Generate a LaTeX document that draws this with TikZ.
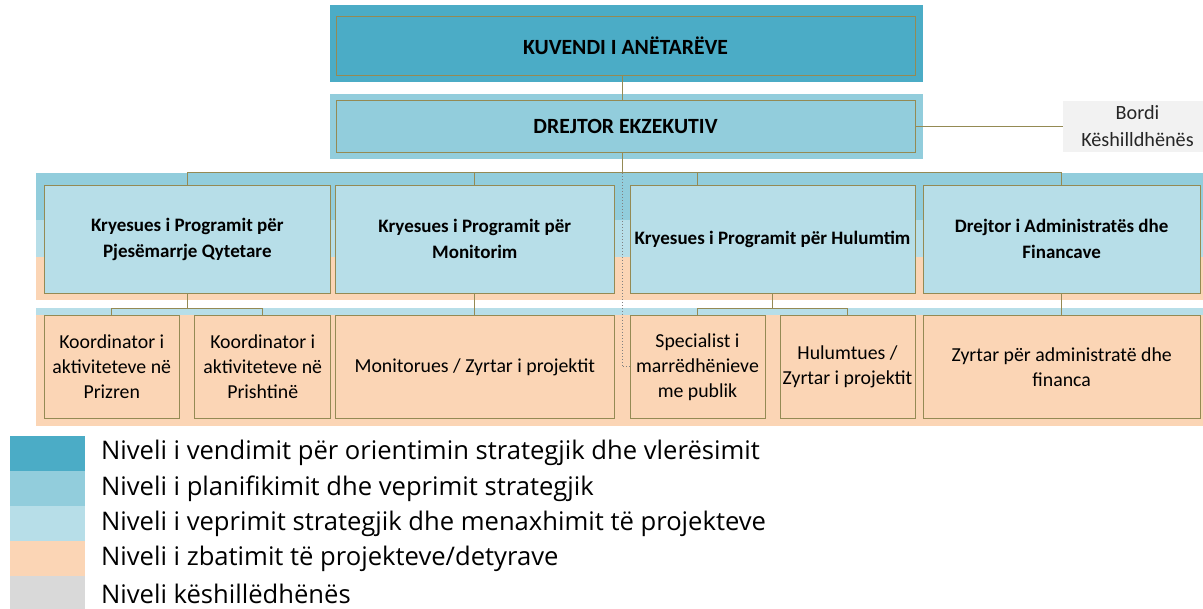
\documentclass[tikz,border=0pt]{standalone}
\usepackage{fontspec}
\setmainfont{Carlito}
\newfontfamily\legendfont{Open Sans}
\usepackage{tikz}
\usetikzlibrary{positioning}

\definecolor{aquadark}{HTML}{4BACC6}
\definecolor{aquamid}{HTML}{92CDDC}
\definecolor{aqualight}{HTML}{B7DEE8}
\definecolor{peach}{HTML}{FBD5B5}
\definecolor{greylevel}{HTML}{D9D9D9}
\definecolor{greybox}{HTML}{F2F2F2}
\definecolor{olive}{HTML}{948A54}

\begin{document}
\begin{tikzpicture}[x=1pt, y=-1pt,
    box/.style={draw=olive, line width=1pt, inner sep=0pt, align=center, font=\fontsize{19.8}{25}\selectfont},
    lead/.style={box, fill=aqualight, font=\bfseries\fontsize{19}{26}\selectfont, minimum height=108pt},
    task/.style={box, fill=peach, minimum height=102.6pt},
    link/.style={draw=olive, line width=1.2pt},
    swatch/.style={minimum width=75pt, minimum height=34.7pt, inner sep=0pt},
    legtext/.style={anchor=west, inner sep=0pt, font=\legendfont\fontsize{25.6}{28}\selectfont}]
    \useasboundingbox (0,0) rectangle (1203,609);

    % Level bands
    \fill[aquadark] (330,5.3) rectangle (922.6,82);
    \fill[aquamid] (330,94) rectangle (922.6,159);
    \fill[aquamid] (35.6,173) rectangle (1203,220.5);
    \fill[aqualight] (35.6,220.5) rectangle (1203,256.7);
    \fill[peach] (35.6,256.7) rectangle (1203,300);
    \fill[aqualight] (35.6,308.3) rectangle (1203,315);
    \fill[peach] (35.6,315) rectangle (1203,425.7);

    % Assembly and director
    \node[box, fill=aquadark, font=\bfseries\fontsize{21.7}{26}\selectfont, minimum width=579pt, minimum height=59.3pt] (kuvendi) at (625.5,45.7) {KUVENDI I ANËTARËVE};
    \node[box, fill=aquamid, font=\bfseries\fontsize{21.7}{26}\selectfont, minimum width=579pt, minimum height=51.6pt] (drejtor) at (625.5,126.5) {DREJTOR EKZEKUTIV};
    \node[box, draw=none, fill=greybox, text=black!85, font=\fontsize{20.2}{27}\selectfont, minimum width=149pt, minimum height=51.7pt] (bordi) at (1137.5,126.5) {Bordi\\Këshilldhënës};

    % Programme heads
    \node[lead, minimum width=286.7pt] (pjesemarrje) at (187.35,239.3) {Kryesues i Programit për\\Pjesëmarrje Qytetare};
    \node[lead, minimum width=278.4pt] (monitorim) at (474.8,239.3) {Kryesues i Programit për\\Monitorim};
    \node[lead, minimum width=285pt] (hulumtim) at (772.5,239.3) {Kryesues i Programit për Hulumtim};
    \node[lead, minimum width=276.6pt] (financa) at (1061.7,239.3) {Drejtor i Administratës dhe\\Financave};

    % Staff
    \node[task, minimum width=135.5pt] (prizren) at (111.75,367) {Koordinator i\\aktiviteteve në\\Prizren};
    \node[task, minimum width=135.9pt] (prishtine) at (262.75,367) {Koordinator i\\aktiviteteve në\\Prishtinë};
    \node[task, minimum width=278.4pt] (monitorues) at (474.8,367) {Monitorues / Zyrtar i projektit};
    \node[task, minimum width=135pt] (specialist) at (697.5,367) {Specialist i\\marrëdhënieve\\me publik};
    \node[task, minimum width=135pt] (hulumtues) at (847.5,367) {Hulumtues /\\Zyrtar i projektit};
    \node[task, minimum width=276.6pt] (zyrtar) at (1061.7,367) {Zyrtar për administratë dhe\\financa};

    % Connectors
    \coordinate (trunk) at (622.3,0);
    \coordinate (bus) at (0,172.8);
    \coordinate (subbus) at (0,308.3);
    \draw[dotted, line width=1pt, draw=gray] (trunk |- bus) -- (trunk |- specialist.west) -- (specialist.west);
    \draw[link] (kuvendi.south -| trunk) -- (drejtor.north -| trunk);
    \draw[link] (drejtor.south -| trunk) -- (trunk |- bus);
    \draw[link] (drejtor.east) -- (bordi.west);
    \draw[link] (pjesemarrje.north) -- (pjesemarrje.north |- bus) -- (financa.north |- bus) -- (financa.north);
    \draw[link] (monitorim.north) -- (monitorim.north |- bus);
    \draw[link] (specialist.north |- hulumtim.north) -- (specialist.north |- bus);
    \draw[link] (pjesemarrje.south) -- (pjesemarrje.south |- subbus);
    \draw[link] (prizren.north) -- (prizren.north |- subbus) -- (prishtine.north |- subbus) -- (prishtine.north);
    \draw[link] (monitorim.south) -- (monitorues.north);
    \draw[link] (hulumtim.south) -- (hulumtim.south |- subbus);
    \draw[link] (specialist.north) -- (specialist.north |- subbus) -- (hulumtues.north |- subbus) -- (hulumtues.north);
    \draw[link] (financa.south) -- (zyrtar.north);

    % Legend
    \node[swatch, fill=aquadark, anchor=north west] (keydecision) at (10,435.7) {};
    \node[swatch, fill=aquamid, below=0pt of keydecision] (keyplanning) {};
    \node[swatch, fill=aqualight, below=0pt of keyplanning] (keyaction) {};
    \node[swatch, fill=peach, below=0pt of keyaction] (keytasks) {};
    \node[swatch, fill=greylevel, below=0pt of keytasks] (keyadvice) {};
    \node[legtext, right=15.5pt of keydecision] (legdecision) {Niveli i vendimit për orientimin strategjik dhe vlerësimit};
    \node[legtext, right=15.5pt of keyplanning] (legplanning) {Niveli i planifikimit dhe veprimit strategjik};
    \node[legtext, right=15.5pt of keyaction] (legaction) {Niveli i veprimit strategjik dhe menaxhimit të projekteve};
    \node[legtext, right=15.5pt of keytasks] (legtasks) {Niveli i zbatimit të projekteve/detyrave};
    \node[legtext, right=15.5pt of keyadvice] (legadvice) {Niveli këshillëdhënës};
\end{tikzpicture}
\end{document}
